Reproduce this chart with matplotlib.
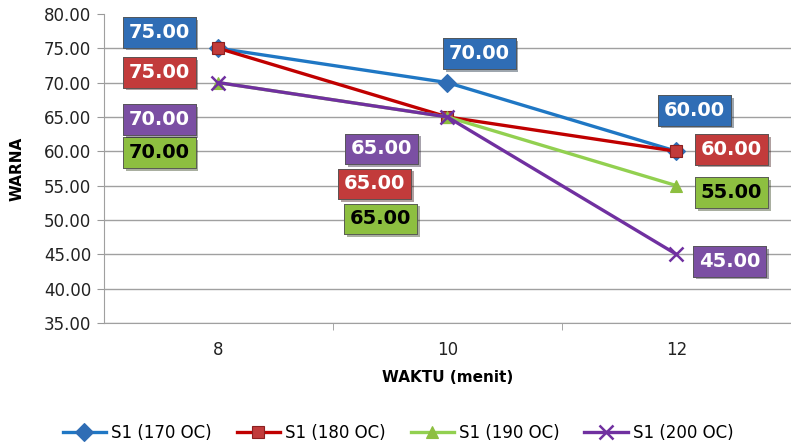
import matplotlib
matplotlib.use("Agg")
import matplotlib.pyplot as plt
import matplotlib.patheffects as pe
import numpy as np

# data
waktu = ["8", "10", "12"]
s170 = [75, 70, 60]
s180 = [75, 65, 60]
s190 = [70, 65, 55]
s200 = [70, 65, 45]
series_names = ["S1 (170 OC)", "S1 (180 OC)", "S1 (190 OC)", "S1 (200 OC)"]

line_colors = ["#1f77c4", "#c00000", "#92d050", "#7030a0"]
box_colors = ["#2f6db5", "#c23b3b", "#8dbf40", "#7b4fa3"]
text_colors = ["white", "white", "black", "white"]
markers = ["D", "s", "^", "x"]

# label offsets in pixels (dx, dy) for each series / point
offsets = [
    [(-59, 16), (32, 29), (18, 41)],
    [(-59, -24), (-73, -67), (55, 2)],
    [(-59, -70), (-67, -102), (55, -7)],
    [(-59, -37), (-66, -32), (53, -7)],
]

fig = plt.figure(figsize=(7.91, 4.48), dpi=100)
ax = fig.add_axes([0.131, 0.279, 0.869, 0.690])

x = np.arange(len(waktu))
all_series = [s170, s180, s190, s200]
for i, ys in enumerate(all_series):
    ms = 9 if markers[i] != "x" else 10
    ax.plot(x, ys, color=line_colors[i], lw=2.4, marker=markers[i], ms=ms,
            mfc=box_colors[i] if markers[i] != "x" else line_colors[i],
            mec=line_colors[i] if markers[i] == "x" else "#8a2020" if i == 1 else box_colors[i],
            mew=1.8 if markers[i] == "x" else 0.8,
            label=series_names[i], zorder=3)

for i, ys in enumerate(all_series):
    for j, v in enumerate(ys):
        dx, dy = offsets[i][j]
        ann = ax.annotate(f"{v:.2f}", (x[j], v), xytext=(dx, dy), textcoords="offset pixels",
                          ha="center", va="center", fontsize=14, fontweight="bold",
                          color=text_colors[i], zorder=5,
                          bbox=dict(boxstyle="square,pad=0.3", fc=box_colors[i],
                                    ec="#555555", lw=0.6))
        ann.get_bbox_patch().set_path_effects([pe.withSimplePatchShadow(offset=(2, -2), alpha=0.4), pe.Normal()])

ax.set_xlim(-0.5, 2.5)
ax.set_ylim(35, 80)
ax.set_yticks(np.arange(35, 81, 5))
ax.set_yticklabels([f"{t:.2f}" for t in np.arange(35, 81, 5)], fontsize=12, color="#222222")
ax.set_xticks(x)
ax.set_xticklabels(waktu, fontsize=12, color="#222222")
ax.set_xticks([0.5, 1.5], minor=True)
ax.tick_params(axis="x", which="major", length=0, pad=13)
ax.tick_params(axis="x", which="minor", length=5, color="#999999")
ax.tick_params(axis="y", length=5, color="#999999", pad=4)

ax.grid(axis="y", color="#a0a0a0", lw=1)
ax.set_axisbelow(True)
for gl in ax.get_ygridlines():
    if gl.get_ydata()[0] >= 80:
        gl.set_visible(False)

for s in ["top", "right"]:
    ax.spines[s].set_visible(False)
for s in ["left", "bottom"]:
    ax.spines[s].set_color("#a0a0a0")

ax.set_ylabel("WARNA", fontsize=11, fontweight="bold", labelpad=14)
ax.set_xlabel("WAKTU (menit)", fontsize=11, fontweight="bold", labelpad=8)

handles, labels = ax.get_legend_handles_labels()
fig.legend(handles, labels, loc="center", bbox_to_anchor=(398 / 791, 0.033), ncol=4,
           frameon=False, fontsize=12, handlelength=2.6, columnspacing=1.5, handletextpad=0.3)

fig.savefig("out.png", dpi=100)
